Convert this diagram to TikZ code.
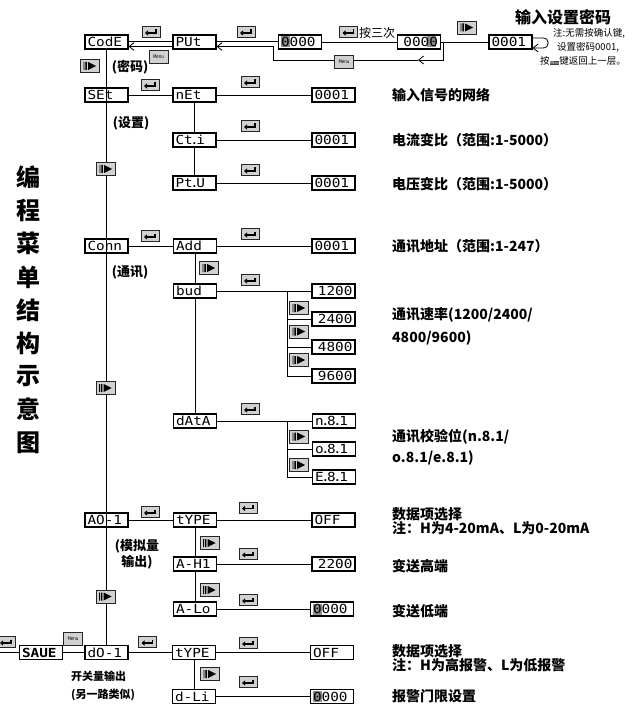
\documentclass[tikz,border=0pt]{standalone}
\usepackage{fontspec}
\setmainfont{Noto Sans CJK SC}
\newfontfamily\lcdfont{DejaVu Sans Mono}[FakeStretch=1.15]
\newfontfamily\menufont{DejaVu Sans}[FakeStretch=0.8]
\newcommand\dt{\makebox[3.5pt]{.}}
\usetikzlibrary{arrows.meta}
\tikzset{
  conn/.style={line width=0.8pt, draw=black},
  barb/.style={-{Straight Barb[length=5pt,width=8pt]}},
  lcd/.style={draw, line width=1.1pt, minimum width=43pt, minimum height=14pt, inner sep=0pt,
    text width=38pt, align=left, font=\lcdfont\fontsize{12.5}{12.5}\selectfont},
  keybase/.style={draw=black!85, line width=0.6pt, fill=black!18, inner sep=0pt},
  enterkey/.style={keybase, minimum width=18pt, minimum height=11pt,
    path picture={\draw[black, line width=1.1pt, -{Triangle[length=3pt,width=5pt]}, shift={(path picture bounding box.center)}] (5,-2.5) -- (5,1) -- (-6,1);}},
  playkey/.style={keybase, minimum width=19pt, minimum height=13pt,
    path picture={\fill[black, shift={(path picture bounding box.center)}] (-6.5,-4) rectangle (-5.6,4) (-4.6,-4) rectangle (-3.2,4) (-1.8,-4) -- (6,0) -- (-1.8,4) -- cycle;}},
  menukey/.style={keybase, minimum width=19pt, minimum height=13pt, font=\menufont\fontsize{5}{5}\selectfont},
  desc/.style={anchor=west, inner sep=0pt, font=\bfseries\fontsize{14}{14}\selectfont},
  side/.style={inner sep=0pt, font=\bfseries\fontsize{13}{16}\selectfont},
  titlech/.style={inner sep=0pt, font=\bfseries\fontsize{24}{24}\selectfont},
  note/.style={anchor=west, inner sep=0pt, font=\fontsize{9.5}{10}\selectfont},
  hl/.style={fill=black!45}
}
\begin{document}
\begin{tikzpicture}[x=1pt,y=-1pt]
\useasboundingbox (0,0) rectangle (640,711);

% ---------- highlight cursors ----------
\fill[hl] (280.5,36.5) rectangle (289.5,47.5);
\fill[hl] (427,36.5) rectangle (436,47.5);
\fill[hl] (312.5,603.5) rectangle (321.5,614.5);
\fill[hl] (312.5,691) rectangle (321.5,702);

% ---------- top row ----------
\node[lcd] (CodE) at (106.5,42) {CodE};
\node[lcd] (PUt) at (194.5,42) {PUt};
\node[lcd] (P0) at (300,42) {0000};
\node[lcd] (P1) at (419,42) {\hfill0000};
\node[lcd] (P2) at (510.5,42) {0001};

% ---------- column 1 ----------
\node[lcd] (SEt) at (106.5,95) {SEt};
\node[lcd] (Conn) at (106.5,246) {Conn};
\node[lcd] (AO) at (106.5,520) {AO-1};
\node[lcd] (dO) at (106.5,652.5) {dO-1};
\node[lcd, font=\lcdfont\bfseries\fontsize{12.5}{12.5}\selectfont] (SAUE) at (41,652.5) {SAUE};

% ---------- column 2 ----------
\node[lcd] (nEt) at (194.5,95) {nEt};
\node[lcd] (Ct) at (194.5,140) {Ct\dt i};
\node[lcd] (Pt) at (194.5,183) {Pt\dt U};
\node[lcd] (Add) at (195,246) {Add};
\node[lcd] (bud) at (195,291) {bud};
\node[lcd] (dAtA) at (195,421) {dAtA};
\node[lcd] (ty1) at (195,520) {tYPE};
\node[lcd] (AH) at (195,564) {A-H1};
\node[lcd] (AL) at (195,609) {A-Lo};
\node[lcd] (ty2) at (194,652.5) {tYPE};
\node[lcd] (dL) at (194,696.5) {d-Li};

% ---------- column 3 ----------
\node[lcd] (v1) at (333.5,95) {0001};
\node[lcd] (v2) at (333.5,140) {0001};
\node[lcd] (v3) at (333.5,183) {0001};
\node[lcd] (v4) at (333.5,246) {0001};
\node[lcd] (b1200) at (333.5,291) {\hfill1200};
\node[lcd] (b2400) at (333.5,319) {\hfill2400};
\node[lcd] (b4800) at (333.5,347) {\hfill4800};
\node[lcd] (b9600) at (333.5,376) {\hfill9600};
\node[lcd] (p1) at (334,421) {n\dt 8\dt 1};
\node[lcd] (p2) at (334,449) {o\dt 8\dt 1};
\node[lcd] (p3) at (334,477) {E\dt 8\dt 1};
\node[lcd] (off1) at (333.5,520) {OFF};
\node[lcd] (v5) at (333.5,564) {\hfill2200};
\node[lcd] (v6) at (332,609) {0000};
\node[lcd] (off2) at (332,652.5) {OFF};
\node[lcd] (v7) at (332,696.5) {0000};

% ---------- coordinates ----------
\coordinate (t1) at (273,46.5);
\coordinate (t2) at (273,60);
\coordinate (t3) at (443,60);
\coordinate (t4) at (443,42);
\coordinate (tm) at (418,60);
\coordinate (j1) at (287,291);
\coordinate (j2) at (287,421);
\coordinate (lft) at (0,652.5);

% ---------- connectors ----------
\draw[conn] ([yshift=0.5pt]PUt.west) -- ([yshift=0.5pt]CodE.east);
\draw[conn,barb] ([yshift=-4.5pt]PUt.west) -- ([yshift=-4.5pt]CodE.east);
\draw[conn] ([yshift=0.5pt]P0.west) -- ([yshift=0.5pt]PUt.east);
\draw[conn,barb] (t4) -- (t3) -- (tm);
\draw[conn,barb] (tm) -- (t2) -- (t1) -- (PUt.east |- t1);
\draw[conn] (P0) -- (P1);
\draw[conn] (P1) -- (P2);
\draw[conn,barb] ([yshift=4pt]P2.east) -- (543,38) .. controls (550,38) and (550,48) .. (543,48) -- ([yshift=-6pt]P2.east);

\draw[conn] (CodE) -- (dO);
\draw[conn] (SEt) -- (nEt) -- (v1);
\draw[conn] (nEt) -- (Ct) -- (Pt);
\draw[conn] (Ct) -- (v2);
\draw[conn] (Pt) -- (v3);
\draw[conn] (Conn) -- (Add) -- (v4);
\draw[conn] (Add) -- (bud) -- (dAtA);
\draw[conn] (bud) -- (b1200);
\draw[conn] (j1) |- (b2400);
\draw[conn] (j1) |- (b4800);
\draw[conn] (j1) |- (b9600);
\draw[conn] (dAtA) -- (p1);
\draw[conn] (j2) |- (p2);
\draw[conn] (j2) |- (p3);
\draw[conn] (AO) -- (ty1) -- (off1);
\draw[conn] (ty1) -- (AH) -- (AL);
\draw[conn] (AH) -- (v5);
\draw[conn] (AL) -- (v6);
\draw[conn] (lft) -- (SAUE) -- (dO) -- (ty2) -- (off2);
\draw[conn] (ty2) -- (dL) -- (v7);

% ---------- keys ----------
\node[enterkey] (e1) at (151,32) {};
\node[enterkey] (e2) at (246,32) {};
\node[enterkey] (e3) at (348.5,32) {};
\node[playkey] (k1) at (467,27.5) {};
\node[menukey] (m1) at (158.5,56.5) {Menu};
\node[menukey] (m2) at (344,62) {Menu};
\node[playkey] (k2) at (90,66) {};

\node[enterkey] (e4) at (150,85) {};
\node[enterkey] (e5) at (250,82) {};
\node[enterkey] (e6) at (250,126) {};
\node[enterkey] (e7) at (250,170) {};
\node[playkey] (k3) at (106,169) {};

\node[enterkey] (e8) at (150,236) {};
\node[enterkey] (e9) at (250,234) {};
\node[playkey] (k4) at (209,268) {};
\node[enterkey] (e10) at (250,280) {};
\node[playkey] (k5) at (299,308) {};
\node[playkey] (k6) at (299,331.5) {};
\node[playkey] (k7) at (299,360) {};
\node[enterkey] (e11) at (250,409) {};
\node[playkey] (k8) at (299,436.5) {};
\node[playkey] (k9) at (299,465) {};
\node[playkey] (k10) at (105.5,388) {};

\node[enterkey] (e12) at (150,512) {};
\node[enterkey] (e13) at (248,507.5) {};
\node[playkey] (k11) at (209.5,543) {};
\node[enterkey] (e14) at (248,554) {};
\node[playkey] (k12) at (209.5,590) {};
\node[enterkey] (e15) at (248,600) {};
\node[playkey] (k13) at (105.5,596.5) {};

\node[enterkey] (e16) at (6,642) {};
\node[menukey] (m3) at (73,638.5) {Menu};
\node[enterkey] (e17) at (147.5,642) {};
\node[enterkey] (e18) at (248,643) {};
\node[playkey] (k14) at (210,674) {};
\node[enterkey] (e19) at (248,682) {};

% ---------- top texts ----------
\node[inner sep=0pt, font=\bfseries\fontsize{16}{16}\selectfont] (ttl) at (563,17) {输入设置密码};
\node[inner sep=0pt, anchor=west, font=\fontsize{12}{12}\selectfont] (x3) at (359,33) {按三次};
\node[note] (n1) at (553,33) {注:无需按确认键,};
\node[note] (n2) at (557,47) {设置密码0001,};
\node[note] (n3) at (540,61) {按{\setlength\fboxsep{0.4pt}\colorbox{black!75}{\menufont\fontsize{4}{4}\selectfont\color{white}Menu}}键返回上一层。};

% ---------- side labels ----------
\node[side] (s1) at (130,67) {(密码)};
\node[side] (s2) at (131,123) {(设置)};
\node[side] (s3) at (130,272) {(通讯)};
\node[side, align=center] (s4) at (137,554) {(模拟量\\输出)};
\node[anchor=west, inner sep=0pt, align=left, font=\bfseries\fontsize{11}{18}\selectfont] (s5) at (71,686) {开关量输出\\(另一路类似)};

% ---------- descriptions ----------
\node[desc] (d1) at (392,95) {输入信号的网络};
\node[desc] (d2) at (392,140) {电流变比（范围:1-5000）};
\node[desc] (d3) at (392,184) {电压变比（范围:1-5000）};
\node[desc] (d4) at (392,246.5) {通讯地址（范围:1-247）};
\node[desc] (d5) at (392,315) {通讯速率(1200/2400/};
\node[desc] (d6) at (392,338.5) {4800/9600)};
\node[desc] (d7) at (392,436.5) {通讯校验位(n.8.1/};
\node[desc] (d8) at (392,458.5) {o.8.1/e.8.1)};
\node[desc] (d9) at (392,514) {数据项选择};
\node[desc] (d10) at (392,528.5) {注：H为4-20mA、L为0-20mA};
\node[desc] (d11) at (392,566.5) {变送高端};
\node[desc] (d12) at (392,611) {变送低端};
\node[desc] (d13) at (392,651) {数据项选择};
\node[desc] (d14) at (392,665) {注：H为高报警、L为低报警};
\node[desc] (d15) at (392,696) {报警门限设置};

% ---------- vertical title ----------
\node[titlech] (c1) at (28.5,177) {编};
\node[titlech] (c2) at (28.5,210.5) {程};
\node[titlech] (c3) at (28.5,243.5) {菜};
\node[titlech] (c4) at (28.5,277) {单};
\node[titlech] (c5) at (28.5,310) {结};
\node[titlech] (c6) at (28.5,343) {构};
\node[titlech] (c7) at (28.5,376.5) {示};
\node[titlech] (c8) at (28.5,409.5) {意};
\node[titlech] (c9) at (28.5,443) {图};
\end{tikzpicture}
\end{document}
